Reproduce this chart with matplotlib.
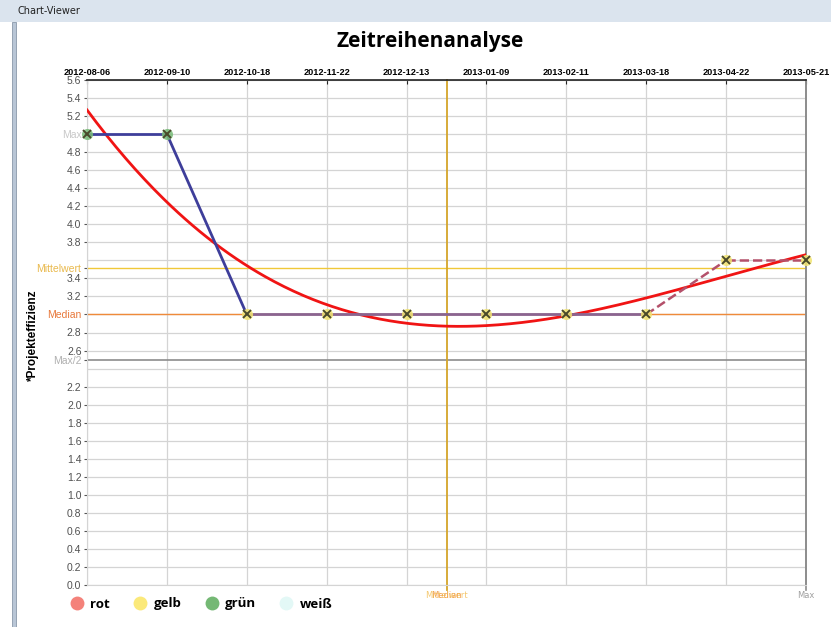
import numpy as np
import matplotlib.pyplot as plt
from matplotlib.lines import Line2D
from matplotlib.patches import Rectangle

# data
dates = ['2012-08-06', '2012-09-10', '2012-10-18', '2012-11-22', '2012-12-13',
         '2013-01-09', '2013-02-11', '2013-03-18', '2013-04-22', '2013-05-21']
efficiency = [5.0, 5.0, 3.0, 3.0, 3.0, 3.0, 3.0, 3.0, 3.6, 3.6]
status = ['grün', 'grün', 'gelb', 'gelb', 'gelb', 'gelb', 'gelb', 'gelb', 'gelb', 'gelb']
legend_labels = ['rot', 'gelb', 'grün', 'weiß']
legend_colors = ['#f4827a', '#fbe97a', '#74b874', '#e3f8f6']

marker_face = {'grün': '#78bb78', 'gelb': '#f2e470'}

x = np.arange(len(dates))
y = np.array(efficiency)
y_max = y.max()
y_mean = y.mean()
y_median = np.median(y)
x_mid = np.median(x)

fig = plt.figure(figsize=(8.31, 6.27), dpi=100)
W, H = 831, 627

# window chrome
fig.patches.append(Rectangle((0, 1 - 22 / H), 1, 22 / H, transform=fig.transFigure,
                             facecolor='#dbe4ee', edgecolor='none', zorder=0))
fig.patches.append(Rectangle((12 / W, 0), 4 / W, 1 - 22 / H, transform=fig.transFigure,
                             facecolor='#b9c6d6', edgecolor='#8a98aa', lw=0.6, zorder=0))
fig.text(18 / W, 1 - 11 / H, 'Chart-Viewer', fontsize=7, va='center', ha='left', color='#222222')

ax = fig.add_axes([87 / W, 1 - 585 / H, (806 - 87) / W, (585 - 80) / H])
ax.set_xlim(0, len(dates) - 1)
ax.set_ylim(0, 5.6)

# grid on minor ticks
ax.yaxis.remove_overlapping_locs = False
ax.set_xticks(x)
ax.set_yticks(np.round(np.arange(0, 5.61, 0.2), 1), minor=True)
ax.grid(True, which='minor', axis='y', color='#d4d4d4', lw=0.9)
ax.grid(True, which='major', axis='x', color='#d4d4d4', lw=0.9)
ax.tick_params(axis='y', which='minor', length=0)

# y tick labels, some replaced by reference lines
ref_vals = [y_max, y_mean, y_median, y_max / 2]
ref_names = ['Max', 'Mittelwert', 'Median', 'Max/2']
ref_label_colors = ['#c8c8c8', '#e9b94c', '#e8783a', '#b0b0b0']
hidden = [5.0, 3.6, 3.0, 2.4]
normal = [v for v in np.round(np.arange(0, 5.61, 0.2), 1) if v not in hidden]
ticks = normal + ref_vals
labels = [f'{v:.1f}' for v in normal] + ref_names
ax.set_yticks(ticks)
ax.set_yticklabels(labels, fontsize=7.5, family='Liberation Sans')
ax.tick_params(axis='y', which='major', length=2, pad=2, colors='#555555')
ylabels = ax.get_yticklabels()
for lbl in ylabels[:len(normal)]:
    lbl.set_color('#505050')
for lbl, c in zip(ylabels[len(normal):], ref_label_colors):
    lbl.set_color(c)

ax.xaxis.tick_top()
ax.set_xticklabels(dates, fontsize=6.6, fontweight='bold', family='Liberation Sans')
ax.tick_params(axis='x', direction='in', length=3, pad=2, color='#222222')

for s in ['left', 'bottom']:
    ax.spines[s].set_color('#d4d4d4')
ax.spines['top'].set_color('#222222')
ax.spines['top'].set_linewidth(1.2)
ax.spines['right'].set_color('#8c8c8c')
ax.spines['right'].set_linewidth(1.2)

# reference lines
ax.axhline(y_mean, color='#f0c838', lw=1.0, zorder=2)
ax.axhline(y_median, color='#ef8a3a', lw=1.0, zorder=2)
ax.axhline(y_max / 2, color='#8c8c8c', lw=1.2, zorder=2)
ax.plot([x_mid, x_mid], [-0.06, 5.6], color='#d4a52a', lw=1.3, clip_on=False, zorder=2)
ax.plot([x[-1], x[-1]], [-0.06, 5.6], color='#8c8c8c', lw=1.2, clip_on=False, zorder=2)
ax.text(x_mid, -0.07, 'Median', color='#f08a3a', fontsize=6, ha='center', va='top', alpha=0.8)
ax.text(x_mid, -0.07, 'Mittelwert', color='#f0b030', fontsize=6, ha='center', va='top', alpha=0.7)
ax.text(x[-1], -0.07, 'Max', color='#a0a0a0', fontsize=6, ha='center', va='top')

# trend (cubic fit)
coef = np.polyfit(x, y, 3)
xs = np.linspace(x[0], x[-1], 300)
ax.plot(xs, np.polyval(coef, xs), color='#f01414', lw=2.0, zorder=4)

# series segments
seg_color = ['#3e3e9a', '#3e3e9a', '#8a6490', '#8a6490', '#8a6490', '#8a6490', '#8a6490',
             '#b4506a', '#b4506a']
seg_style = ['-'] * 7 + ['--', '--']
for i in range(len(x) - 1):
    ax.plot(x[i:i + 2], y[i:i + 2], color=seg_color[i], ls=seg_style[i],
            lw=2.0 if seg_style[i] == '-' else 1.8, zorder=5, clip_on=False)

for xi, yi, st in zip(x, y, status):
    ax.plot(xi, yi, 'o', ms=8, mfc=marker_face[st], mec='none', alpha=0.85, zorder=6, clip_on=False)
    ax.plot(xi, yi, 'x', ms=6, mew=1.4, color='#4a4a2a', zorder=7, clip_on=False)

fig.text(430 / W, 1 - 42 / H, 'Zeitreihenanalyse', fontsize=15, fontweight='bold',
         family='Open Sans', ha='center', va='center')
fig.text(33 / W, 1 - 335 / H, '*Projekteffizienz', rotation=90, fontsize=8.5,
         fontweight='bold', family='Liberation Sans', ha='center', va='center')

handles = [Line2D([0], [0], marker='o', ls='none', ms=10, mfc=c, mec='none') for c in legend_colors]
fig.legend(handles, legend_labels, loc='center left', bbox_to_anchor=(52 / W, 1 - 604 / H),
           ncol=4, frameon=False, handletextpad=0.0, columnspacing=1.3,
           prop={'family': 'Open Sans', 'weight': 'bold', 'size': 9.5})

fig.savefig('out.png', dpi=100)
